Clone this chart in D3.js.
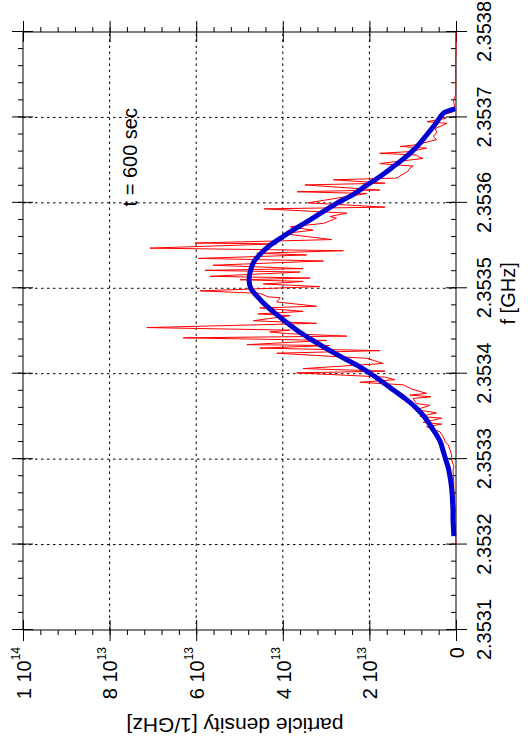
<!DOCTYPE html>
<html>
<head>
<meta charset="utf-8">
<script src="https://cdn.jsdelivr.net/npm/d3@7"></script>
<style>
  body { margin: 0; background: #fff; }
  svg { display: block; font-family: "Liberation Sans", Arial, Helvetica, sans-serif; }
  .tick text { font-size: 20px; font-family: "Liberation Sans", Arial, Helvetica, sans-serif; fill: #000; }
  .tick line { stroke: #000; }
</style>
</head>
<body>
<div id="chart"></div>
<script>
// ---- data (density in units of 1e13 / GHz) ----
const freqTicks = [2.3531, 2.3532, 2.3533, 2.3534, 2.3535, 2.3536, 2.3537, 2.3538];
const densTicks = [0, 2, 4, 6, 8, 10];
const densBase = ["0", "2 10", "4 10", "6 10", "8 10", "1 10"];
const densExp  = ["",  "13",   "13",   "13",   "13",   "14"];

const blueFreq = [2.35321, 2.35322, 2.35323, 2.35324, 2.35325, 2.35326, 2.35327, 2.35328, 2.35329, 2.35330,
                  2.35331, 2.35332, 2.35333, 2.35334, 2.35335, 2.35336, 2.35337, 2.35338, 2.35339, 2.35340,
                  2.35341, 2.35342, 2.35343, 2.35344, 2.35345, 2.35346, 2.35347, 2.35348, 2.35349, 2.35350,
                  2.35351, 2.35352, 2.35353, 2.35354, 2.35355, 2.35356, 2.35357, 2.35358, 2.35359, 2.35360,
                  2.35361, 2.35362, 2.35363, 2.35364, 2.35365, 2.35366, 2.35367, 2.35368, 2.35369, 2.35370,
                  2.353705, 2.353709, 2.35371];
const blueDens = [0.05, 0.06, 0.07, 0.07, 0.08, 0.09, 0.11, 0.14, 0.18, 0.24,
                  0.30, 0.36, 0.47, 0.60, 0.74, 0.92, 1.15, 1.42, 1.69, 1.97,
                  2.29, 2.66, 3.01, 3.34, 3.65, 3.91, 4.16, 4.39, 4.58, 4.74,
                  4.78, 4.75, 4.68, 4.52, 4.30, 4.01, 3.70, 3.37, 3.06, 2.74,
                  2.37, 2.08, 1.78, 1.51, 1.25, 1.02, 0.83, 0.67, 0.51, 0.37,
                  0.29, 0.09, 0.02];

const redFreq = [2.35320, 2.35321, 2.35322, 2.35323, 2.35324, 2.35325, 2.35326, 2.35327, 2.35328, 2.353287,
                 2.353291, 2.353299, 2.353305, 2.353311, 2.353317, 2.353320, 2.353326, 2.353332, 2.353338, 2.353341,
                 2.353343, 2.353348, 2.353350, 2.353354, 2.353358, 2.353363, 2.353365, 2.353371, 2.353373, 2.353375,
                 2.353377, 2.353382, 2.353387, 2.353390, 2.353393, 2.353396, 2.353401, 2.353403, 2.353406, 2.353412,
                 2.353418, 2.353424, 2.353427, 2.353430, 2.353433, 2.353434, 2.353439, 2.353442, 2.353444, 2.353447,
                 2.353449, 2.353451, 2.353454, 2.353459, 2.353462, 2.353468, 2.353470, 2.353473, 2.353477, 2.353479,
                 2.353484, 2.353489, 2.353490, 2.353494, 2.353497, 2.353502, 2.353505, 2.353508, 2.353510, 2.353512,
                 2.353514, 2.353519, 2.353521, 2.353523, 2.353527, 2.353532, 2.353535, 2.353539, 2.353541, 2.353544,
                 2.353547, 2.353552, 2.353553, 2.353557, 2.353564, 2.353568, 2.353572, 2.353576, 2.353582, 2.353584,
                 2.353588, 2.353593, 2.353595, 2.353600, 2.353611, 2.353613, 2.353615, 2.353621, 2.353623, 2.353627,
                 2.353629, 2.353637, 2.353641, 2.353643, 2.353646, 2.353652, 2.353654, 2.353656, 2.353658, 2.353660,
                 2.353664, 2.353666, 2.353668, 2.353674, 2.353678, 2.353682, 2.353687, 2.353693, 2.353695, 2.353699,
                 2.353703, 2.353706, 2.353709, 2.353720, 2.353726, 2.35374, 2.35376, 2.35378, 2.35380];
const redDens = [0.00, 0.01, 0.02, 0.03, 0.02, 0.035, 0.05, 0.05, 0.06, 0.07,
                 0.046, 0.10, 0.10, 0.14, 0.18, 0.25, 0.29, 0.37, 0.68, 0.33,
                 0.76, 0.33, 0.83, 0.45, 0.91, 0.60, 0.91, 0.99, 0.58, 1.06,
                 0.68, 1.02, 1.22, 2.22, 1.41, 1.64, 3.68, 1.64, 3.53, 1.68,
                 2.06, 4.14, 1.76, 4.53, 2.91, 4.83, 2.99, 6.30, 2.52, 3.91,
                 4.30, 3.83, 7.14, 3.22, 4.68, 3.83, 4.57, 3.53, 4.53, 3.22,
                 4.14, 4.06, 4.34, 4.53, 5.91, 3.14, 4.45, 3.53, 4.99, 3.37,
                 5.68, 3.60, 5.80, 3.53, 5.61, 3.06, 5.95, 3.45, 4.60, 2.60,
                 7.07, 4.14, 6.03, 2.87, 3.99, 3.30, 3.83, 3.06, 2.76, 2.91,
                 2.52, 4.43, 1.64, 3.42, 2.06, 3.67, 1.76, 3.49, 1.64, 2.83,
                 1.37, 1.11, 1.06, 0.99, 1.76, 0.76, 0.88, 0.91, 1.76, 1.06,
                 0.68, 1.29, 0.91, 0.45, 0.53, 0.44, 0.48, 0.21, 0.67, 0.23,
                 0.37, 0.09, 0.02, 0.06, 0.01, 0.005, 0.01, 0.0, 0.0];

// plot is laid out in landscape, then turned a quarter to the left
let margin = { left: 23, top: 32 },
    width = 598,    // frequency direction
    height = 433;   // density direction

let svg = d3.select("#chart")
    .append("svg")
    .attr("width", 528)
    .attr("height", 747);

let g = svg.append("g")
    .attr("transform", `translate(${margin.left},${margin.top + width}) rotate(-90)`);

let x = d3.scaleLinear().domain([2.3531, 2.3538]).range([0, width]);
let y = d3.scaleLinear().domain([0, 10]).range([height, 0]);

let minorF = d3.range(0, 36).map(i => +(2.3531 + i * 0.00002).toFixed(5));
let minorD = d3.range(0, 26).map(i => +(i * 0.4).toFixed(1));

// grid
let gridF = freqTicks.slice(1, -1), gridD = densTicks.slice(1, -1);
g.selectAll("line.gf").data(gridF).enter().append("line")
    .attr("x1", d => x(d)).attr("x2", d => x(d))
    .attr("y1", 0).attr("y2", height)
    .attr("stroke", "#000").attr("stroke-dasharray", "2.5,3.5");
g.selectAll("line.gd").data(gridD).enter().append("line")
    .attr("y1", d => y(d)).attr("y2", d => y(d))
    .attr("x1", 0).attr("x2", width)
    .attr("stroke", "#000").attr("stroke-dasharray", "2.5,3.5");

function noDomain(sel) { sel.select(".domain").remove(); }

// frequency axis with labels (page right)
let fAxis = g.append("g").attr("transform", `translate(0,${height})`);
fAxis.append("g").call(d3.axisBottom(x).tickValues(freqTicks).tickFormat(d3.format(".4f")).tickSize(11).tickPadding(10)).call(noDomain);
fAxis.append("g").call(d3.axisBottom(x).tickValues(freqTicks).tickFormat("").tickSize(-10)).call(noDomain);
fAxis.append("g").call(d3.axisBottom(x).tickValues(minorF).tickFormat("").tickSize(-5)).call(noDomain);

// frequency axis, opposite side (page left)
let fTop = g.append("g");
fTop.append("g").call(d3.axisTop(x).tickValues(freqTicks).tickFormat("").tickSize(11)).call(noDomain);
fTop.append("g").call(d3.axisTop(x).tickValues(freqTicks).tickFormat("").tickSize(-10)).call(noDomain);
fTop.append("g").call(d3.axisTop(x).tickValues(minorF).tickFormat("").tickSize(5)).call(noDomain);

// density axis with labels (page bottom)
let dAxis = g.append("g");
dAxis.append("g").attr("class", "dlab")
    .call(d3.axisLeft(y).tickValues(densTicks).tickFormat("").tickSize(11).tickPadding(6)).call(noDomain);
dAxis.append("g").call(d3.axisLeft(y).tickValues(densTicks).tickFormat("").tickSize(-10)).call(noDomain);
dAxis.append("g").call(d3.axisLeft(y).tickValues(minorD).tickFormat("").tickSize(5)).call(noDomain);

dAxis.selectAll(".dlab .tick text").each(function(d, i) {
    let t = d3.select(this).attr("dy", "0.36em");
    t.append("tspan").text(densBase[i]);
    if (densExp[i]) t.append("tspan").attr("dy", -11).style("font-size", "12px").text(densExp[i]);
});

// density axis, opposite side (page top)
let dRight = g.append("g").attr("transform", `translate(${width},0)`);
dRight.append("g").call(d3.axisRight(y).tickValues(densTicks).tickFormat("").tickSize(11)).call(noDomain);
dRight.append("g").call(d3.axisRight(y).tickValues(densTicks).tickFormat("").tickSize(-10)).call(noDomain);
dRight.append("g").call(d3.axisRight(y).tickValues(minorD).tickFormat("").tickSize(5)).call(noDomain);

// frame
g.append("rect")
    .attr("width", width).attr("height", height)
    .attr("fill", "none").attr("stroke", "#000");

// data
let line = d3.line().x(d => x(d[0])).y(d => y(d[1]));

g.append("path")
    .datum(d3.zip(redFreq, redDens))
    .attr("fill", "none")
    .attr("stroke", "#ff0000")
    .attr("stroke-width", 1)
    .attr("d", line);

g.append("path")
    .datum(d3.zip(blueFreq, blueDens))
    .attr("fill", "none")
    .attr("stroke", "#0000d0")
    .attr("stroke-width", 5)
    .attr("stroke-linejoin", "round")
    .attr("d", line.curve(d3.curveCatmullRom));

// texts
g.append("text")
    .attr("x", x(2.353494)).attr("y", 492)
    .attr("text-anchor", "middle")
    .style("font-size", "20px")
    .text("f [GHz]");

g.append("text")
    .attr("transform", "translate(-88,212) rotate(-90)")
    .attr("text-anchor", "middle")
    .style("font-size", "21px")
    .text("particle density [1/GHz]");

g.append("text")
    .attr("x", 522).attr("y", 114)
    .attr("text-anchor", "end")
    .style("font-size", "20px")
    .text("t = 600 sec");
</script>
</body>
</html>
